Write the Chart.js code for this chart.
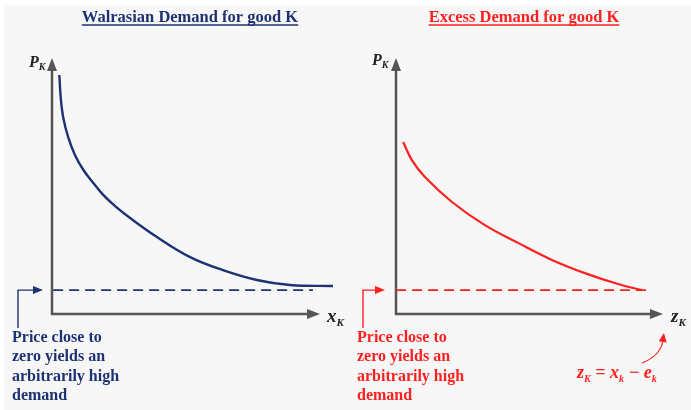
<!DOCTYPE html>
<html>
<head>
<meta charset="utf-8">
<script src="https://cdn.jsdelivr.net/npm/chart.js@4"></script>
<style>
html, body { margin: 0; padding: 0; background: #fff; }
#wrap { position: relative; width: 691px; height: 410px; overflow: hidden; }
#bg { position: absolute; left: 4px; top: 5px; right: 0; bottom: 0; background: #f7f7f7; }
canvas { position: absolute; top: 0; }
</style>
</head>
<body>
<div id="wrap">
  <div id="bg"></div>
  <canvas id="demand" width="345" height="410" style="left:0"></canvas>
  <canvas id="excess" width="346" height="410" style="left:345px"></canvas>
</div>
<script>
// Walrasian demand curve (quantity x_K, price P_K)
const demandQty   = [0.26, 0.31, 0.40, 0.58, 0.81, 1.11, 1.46, 1.81, 2.23, 2.76, 3.71, 4.88, 6.04, 7.24, 8.41, 9.93];
const demandPrice = [9.41, 8.50, 7.72, 6.93, 6.26, 5.67, 5.16, 4.69, 4.25, 3.78, 3.03, 2.24, 1.73, 1.34, 1.14, 1.10];
// Excess demand curve (z_K, P_K)
const excessQty   = [0.25, 0.56, 1.02, 1.97, 3.13, 4.30, 5.49, 6.65, 7.82, 8.66];
const excessPrice = [6.77, 6.06, 5.39, 4.41, 3.50, 2.80, 2.13, 1.61, 1.18, 0.94];
// price close to zero (dashed line)
const floorPrice = 0.94;
const demandFloor = [0.04, 9.22];
const excessFloor = [0, 9.01];
const noteLines = ['Price close to', 'zero yields an', 'arbitrarily high', 'demand'];

const SERIF = '"Liberation Serif", "DejaVu Serif", serif';

function toPoints(xs, ys) {
    return xs.map((v, i) => ({ x: v, y: ys[i] }));
}

function head(ctx, x, y, ang, len, w) {
    ctx.save();
    ctx.translate(x, y);
    ctx.rotate(ang);
    ctx.beginPath();
    ctx.moveTo(0, 0);
    ctx.lineTo(-len, -w);
    ctx.lineTo(-len, w);
    ctx.closePath();
    ctx.fill();
    ctx.restore();
}

// draws pieces like [text, size, dy] one after another
function drawParts(ctx, x, y, parts) {
    parts.forEach(p => {
        ctx.font = 'italic bold ' + p[1] + 'px ' + SERIF;
        ctx.fillText(p[0], x, y + p[2]);
        x += ctx.measureText(p[0]).width;
    });
}

function makePlugin(cfg) {
    return {
        id: 'econ_' + cfg.name,
        beforeDatasetsDraw(chart) {
            const ctx = chart.ctx, xs = chart.scales.x, ys = chart.scales.y;
            const x0 = xs.getPixelForValue(0), y0 = ys.getPixelForValue(0);
            const xEnd = xs.getPixelForValue(cfg.xAxisEnd), yEnd = ys.getPixelForValue(10) - 2;
            ctx.save();
            ctx.strokeStyle = '#555';
            ctx.fillStyle = '#555';
            ctx.lineWidth = 2.5;
            ctx.beginPath();
            ctx.moveTo(x0, y0 + 1);
            ctx.lineTo(x0, yEnd + 10);
            ctx.moveTo(x0 - 1, y0);
            ctx.lineTo(xEnd - 10, y0);
            ctx.stroke();
            head(ctx, x0, yEnd, -Math.PI / 2, 13, 5);
            head(ctx, xEnd, y0, 0, 13, 5);
            ctx.restore();
        },
        afterDraw(chart) {
            const ctx = chart.ctx;
            ctx.save();
            ctx.fillStyle = cfg.color;
            ctx.strokeStyle = cfg.color;
            ctx.textBaseline = 'alphabetic';

            // title, underlined
            ctx.font = 'bold 16.5px ' + SERIF;
            const tw = ctx.measureText(cfg.title).width;
            ctx.fillText(cfg.title, cfg.titleX - tw / 2, 22);
            ctx.lineWidth = 1.3;
            ctx.beginPath();
            ctx.moveTo(cfg.titleX - tw / 2, 25);
            ctx.lineTo(cfg.titleX + tw / 2, 25);
            ctx.stroke();

            // axis labels
            ctx.fillStyle = '#222';
            drawParts(ctx, cfg.pX, cfg.pY, [['P', 16, 0], ['K', 10, 3]]);
            drawParts(ctx, cfg.qX, 322, [[cfg.qLetter, 19, 0], ['K', 11, 4]]);

            // note text
            ctx.fillStyle = cfg.color;
            ctx.font = 'bold 16px ' + SERIF;
            noteLines.forEach((t, i) => ctx.fillText(t, 12, 342 + i * 19.3));

            // note arrow pointing at the dashed line
            const yf = chart.scales.y.getPixelForValue(floorPrice);
            ctx.lineWidth = 1.4;
            ctx.beginPath();
            ctx.moveTo(18, 328);
            ctx.lineTo(18, yf);
            ctx.lineTo(cfg.noteTip - 8, yf);
            ctx.stroke();
            head(ctx, cfg.noteTip, yf, 0, 10, 4);

            if (cfg.formula) {
                drawParts(ctx, 232, 378, [['z', 18, 0], ['K', 10, 4], [' = x', 18, 0], ['k', 10, 4], [' \u2212 e', 18, 0], ['k', 10, 4]]);
                ctx.lineWidth = 1.2;
                ctx.beginPath();
                ctx.moveTo(297, 363);
                ctx.quadraticCurveTo(315, 356, 318, 341);
                ctx.stroke();
                head(ctx, 319, 333, -Math.PI / 2 + 0.15, 9, 4);
            }
            ctx.restore();
        }
    };
}

function makeChart(id, cfg, curve, floorRange) {
    return new Chart(document.getElementById(id), {
        type: 'line',
        data: {
            datasets: [{
                data: curve,
                borderColor: cfg.color,
                borderWidth: cfg.curveWidth,
                pointRadius: 0,
                tension: 0.4
            }, {
                data: [{ x: floorRange[0], y: floorPrice }, { x: floorRange[1], y: floorPrice }],
                borderColor: cfg.color,
                borderWidth: 1.6,
                borderDash: [10, 6],
                pointRadius: 0
            }]
        },
        options: {
            responsive: false,
            animation: false,
            devicePixelRatio: 1,
            layout: { padding: { left: cfg.padLeft, right: cfg.padRight, top: 60, bottom: 96 } },
            scales: {
                x: { type: 'linear', min: 0, max: 10, display: false },
                y: { type: 'linear', min: 0, max: 10, display: false }
            },
            plugins: { legend: { display: false }, tooltip: { enabled: false } }
        },
        plugins: [makePlugin(cfg)]
    });
}

makeChart('demand', {
    name: 'demand', title: 'Walrasian Demand for good K', titleX: 190,
    color: '#1d3272', curveWidth: 2.4, padLeft: 52, padRight: 10,
    xAxisEnd: 9.47, pX: 29, pY: 67, qX: 327, qLetter: 'x', noteTip: 43
}, toPoints(demandQty, demandPrice), demandFloor);

makeChart('excess', {
    name: 'excess', title: 'Excess Demand for good K', titleX: 179,
    color: '#ff1f1f', curveWidth: 2.2, padLeft: 51, padRight: 11,
    xAxisEnd: 9.40, pX: 27, pY: 65, qX: 326, qLetter: 'z', noteTip: 40, formula: true
}, toPoints(excessQty, excessPrice), excessFloor);
</script>
</body>
</html>
